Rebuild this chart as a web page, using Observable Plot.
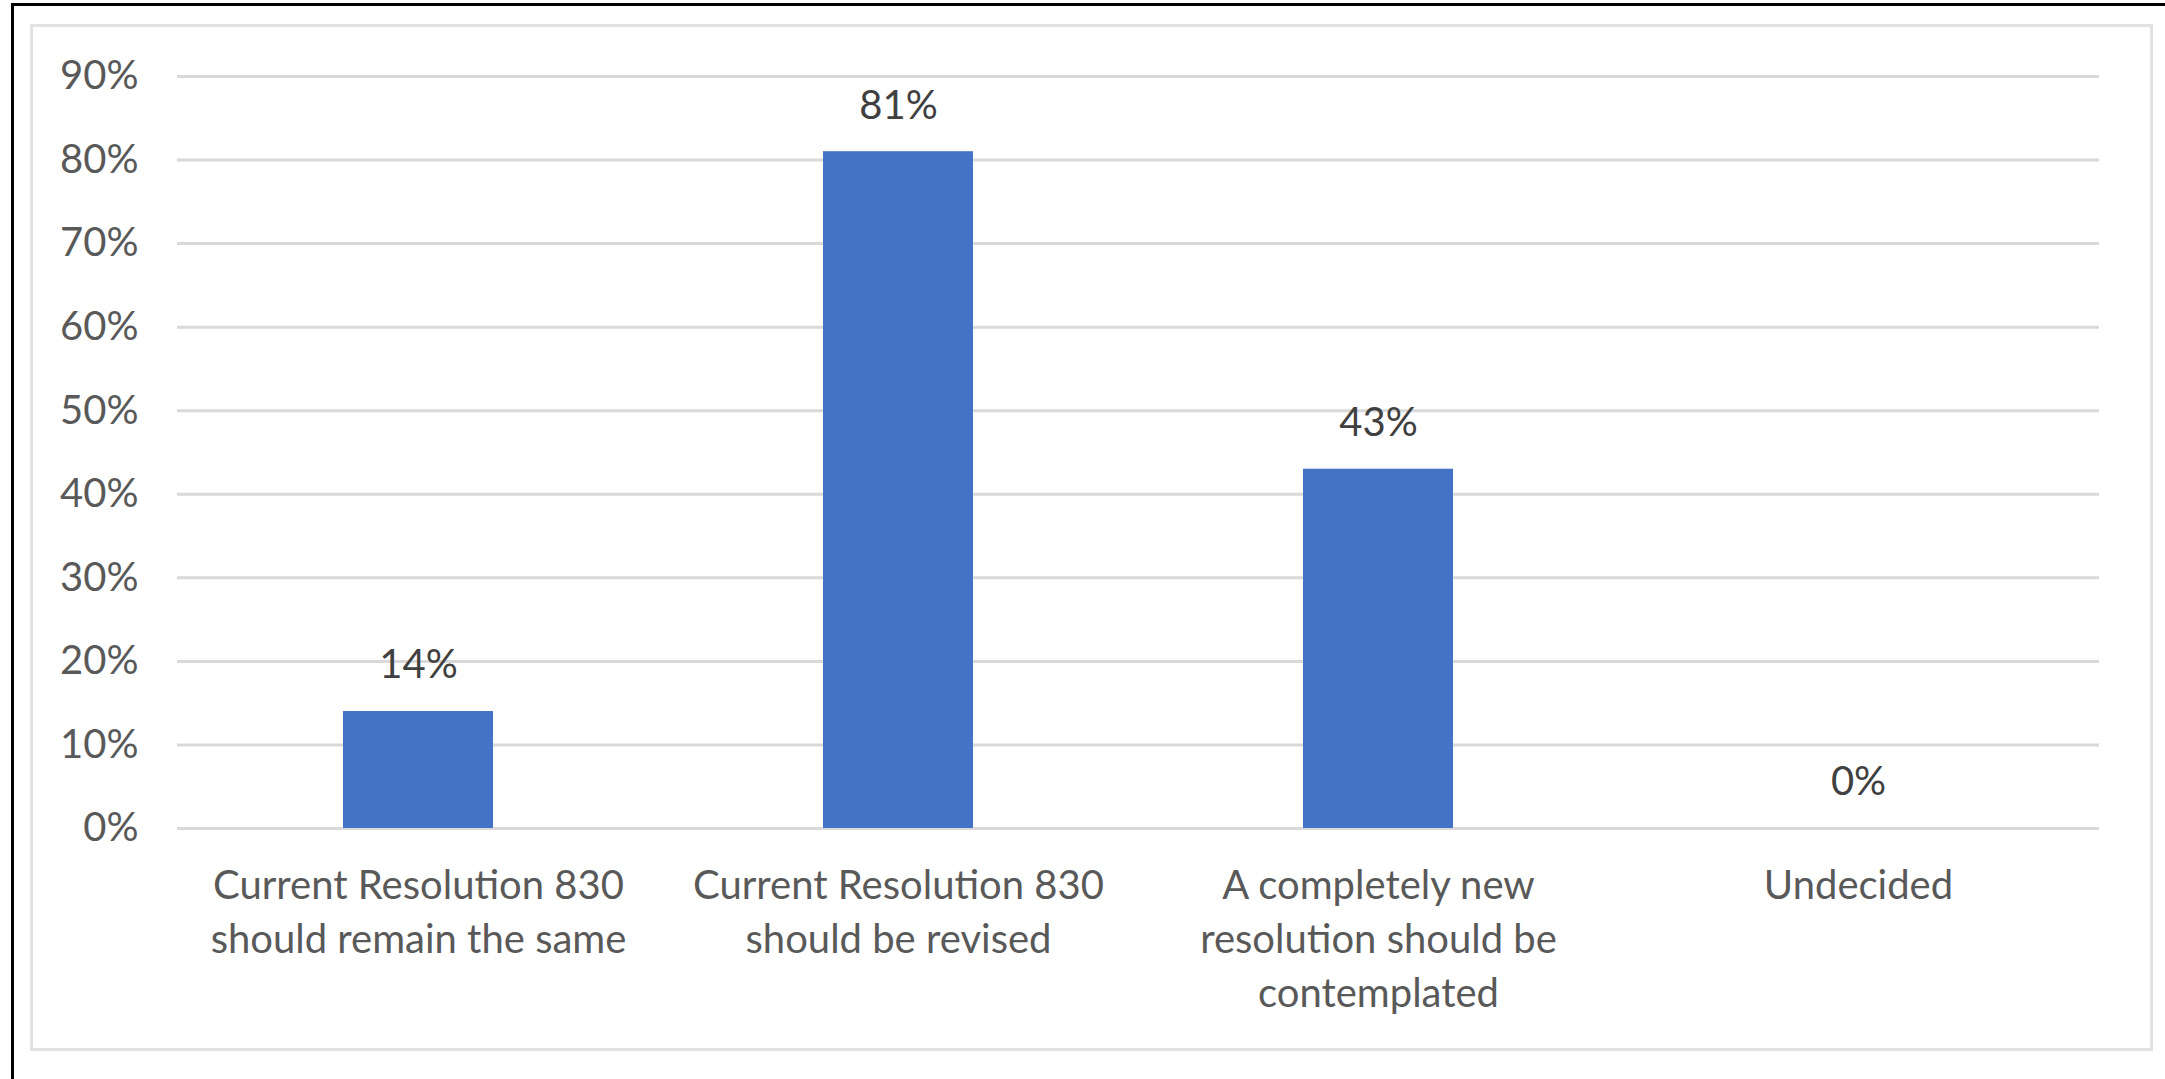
<!DOCTYPE html>
<html>
<head>
<meta charset="utf-8">
<script src="https://cdn.jsdelivr.net/npm/d3@7"></script>
<script src="https://cdn.jsdelivr.net/npm/@observablehq/plot@0.6"></script>
<style>
  html, body { margin: 0; padding: 0; background: #fff; }
  #wrap { position: relative; width: 2165px; height: 1079px; overflow: hidden; }
  #outer { position: absolute; left: 11px; top: 3px; right: -20px; bottom: -20px;
           border-left: 3px solid #000; border-top: 3px solid #000; }
  #box { position: absolute; left: 30px; top: 24px; width: 2117px; height: 1021px;
         border: 3px solid #e2e2e2; }
  #chart { position: absolute; left: 0; top: 0; }
</style>
</head>
<body>
<div id="wrap">
  <div id="outer"></div>
  <div id="box"></div>
  <div id="chart"></div>
</div>
<script>
// Survey responses on Resolution 830 (share of respondents, %)
const categories = [
  "Current Resolution 830\nshould remain the same",
  "Current Resolution 830\nshould be revised",
  "A completely new\nresolution should be\ncontemplated",
  "Undecided"
];
const shares = [14, 81, 43, 0];
const yTicks = [0, 10, 20, 30, 40, 50, 60, 70, 80, 90];

const data = categories.map((category, i) => ({ category, share: shares[i] }));
const pct = d => `${d}%`;

const chart = Plot.plot({
  width: 2165,
  height: 1079,
  marginTop: 76,
  marginBottom: 251,
  marginLeft: 177,
  marginRight: 66,
  style: { fontFamily: "Lato, 'Open Sans', sans-serif", fontSize: "40px", color: "#595959", background: "transparent" },
  x: { domain: categories, paddingInner: 0.687, paddingOuter: 0.3435, label: null },
  y: { domain: [0, 90], label: null },
  marks: [
    Plot.gridY(yTicks, { stroke: "#d9d9d9", strokeOpacity: 1, strokeWidth: 3 }),
    Plot.axisY(yTicks, { tickSize: 0, tickPadding: 39, tickFormat: pct, fill: "#595959", label: null }),
    Plot.axisX({ tickSize: 0, tickPadding: 32, lineHeight: 1.35, fill: "#595959", label: null }),
    Plot.barY(data, { x: "category", y: "share", fill: "#4472C4" }),
    Plot.text(data, { x: "category", y: "share", text: d => pct(d.share), dy: -46, fill: "#404040" })
  ]
});

document.getElementById("chart").appendChild(chart);
</script>
</body>
</html>
